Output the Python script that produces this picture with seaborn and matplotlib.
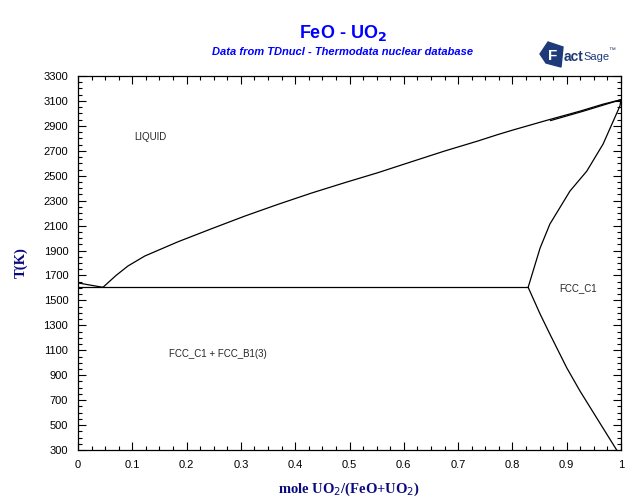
import matplotlib
matplotlib.use("Agg")
import matplotlib.pyplot as plt
import matplotlib.patches as mpatches
from matplotlib.ticker import MultipleLocator
import seaborn as sns
import pandas as pd

# liquidus, FeO side (x = 0 -> eutectic)
feo_liq_x = [0.0, 0.046]
feo_liq_t = [1640, 1605]

# liquidus, UO2 side (eutectic -> pure UO2)
uo2_liq_x = [0.046, 0.07, 0.092, 0.123, 0.184, 0.246, 0.307, 0.368, 0.430, 0.491,
             0.552, 0.614, 0.675, 0.736, 0.773, 0.802, 0.863, 0.9245, 0.967, 1.0]
uo2_liq_t = [1605, 1700, 1776, 1856, 1970, 2075, 2176, 2270, 2361, 2444,
             2524, 2612, 2698, 2778, 2830, 2868, 2944, 3018, 3074, 3110]

# second (almost coincident) boundary close to the UO2 melting point
liq2_x = [0.87, 0.93, 1.0]
liq2_t = [2942, 3017, 3110]

# solidus of FCC_C1
sol_x = [0.829, 0.851, 0.869, 0.906, 0.937, 0.967, 0.998, 1.0]
sol_t = [1605, 1920, 2112, 2377, 2537, 2754, 3059, 3110]

# solvus of FCC_C1 below the eutectic
solv_x = [0.829, 0.851, 0.869, 0.900, 0.9245, 0.955, 0.992]
solv_t = [1605, 1391, 1230, 960, 773, 559, 300]

# eutectic line
eut_x = [0.0, 0.829]
eut_t = [1605, 1605]

x_ticks = [0, 0.1, 0.2, 0.3, 0.4, 0.5, 0.6, 0.7, 0.8, 0.9, 1]
x_tick_labels = ["0", "0.1", "0.2", "0.3", "0.4", "0.5", "0.6", "0.7", "0.8", "0.9", "1"]
y_ticks = list(range(300, 3301, 200))

sns.set_style("ticks")
plt.rcParams['font.family'] = ['Liberation Sans', 'DejaVu Sans']

fig = plt.figure(figsize=(6.4, 5.04), dpi=100)
ax = fig.add_axes([78 / 640, 54 / 504, 543 / 640, 374 / 504])

curves = [
    (feo_liq_x, feo_liq_t),
    (uo2_liq_x, uo2_liq_t),
    (liq2_x, liq2_t),
    (sol_x, sol_t),
    (solv_x, solv_t),
    (eut_x, eut_t),
]
for cx, ct in curves:
    df = pd.DataFrame({"x": cx, "T": ct})
    sns.lineplot(data=df, x="x", y="T", ax=ax, sort=False, estimator=None,
                 color="black", linewidth=0.9)

ax.set_xlim(0, 1)
ax.set_ylim(300, 3300)
ax.set_xticks(x_ticks)
ax.set_xticklabels(x_tick_labels)
ax.set_yticks(y_ticks)
ax.xaxis.set_minor_locator(MultipleLocator(0.025))
ax.yaxis.set_minor_locator(MultipleLocator(50))
ax.tick_params(which="both", direction="in", top=True, right=True,
               labeltop=False, labelright=False, labelsize=8, width=0.8, colors="black")
ax.tick_params(which="major", length=6, pad=7)
ax.tick_params(which="minor", length=3)
for s in ax.spines.values():
    s.set_linewidth(0.9)
    s.set_color("black")

navy = "#0a0a80"
ax.set_xlabel(r"mole UO$_2$/(FeO+UO$_2$)", family="Liberation Serif",
              fontweight="bold", fontsize=10.5, color=navy, labelpad=8)
ax.set_ylabel("T(K)", family="Liberation Serif", fontweight="bold",
              fontsize=10.5, color=navy)
ax.yaxis.set_label_coords(-0.092, 0.5)

# phase labels
ax.text(0.133, 2812, "LIQUID", fontsize=7, ha="center", va="center")
ax.text(0.921, 1600, "FCC_C1", fontsize=7, ha="center", va="center")
ax.text(0.258, 1070, "FCC_C1 + FCC_B1(3)", fontsize=7, ha="center", va="center")

# titles
fig.text(343 / 640, 1 - 33 / 504, r"FeO - UO$_\mathbf{2}$", fontsize=13,
         fontweight="bold", color="#0000ff", ha="center", va="center")
fig.text(343 / 640, 1 - 52 / 504, "Data from TDnucl - Thermodata nuclear database",
         fontsize=8, fontweight="bold", style="italic", color="#0000ff",
         ha="center", va="center")

# FactSage logo (approximation)
logo = "#1f3a78"
fig.patches.append(mpatches.Polygon(
    [(540 / 640, 1 - 54 / 504), (548 / 640, 1 - 42 / 504), (563 / 640, 1 - 47 / 504),
     (561 / 640, 1 - 67 / 504), (546 / 640, 1 - 63 / 504)],
    closed=True, transform=fig.transFigure, color=logo))
fig.text(548 / 640, 1 - 56 / 504, "F", fontsize=11, fontweight="bold",
         color="white", ha="left", va="center")
fig.text(564 / 640, 1 - 57 / 504, "act", fontsize=10, fontweight="bold",
         color=logo, ha="left", va="center")
fig.text(583 / 640, 1 - 57 / 504, "Sage", fontsize=8, color=logo,
         ha="left", va="center")
fig.text(608 / 640, 1 - 50 / 504, "\u2122", fontsize=5, color=logo,
         ha="left", va="center")

fig.savefig("out.png", dpi=100)
